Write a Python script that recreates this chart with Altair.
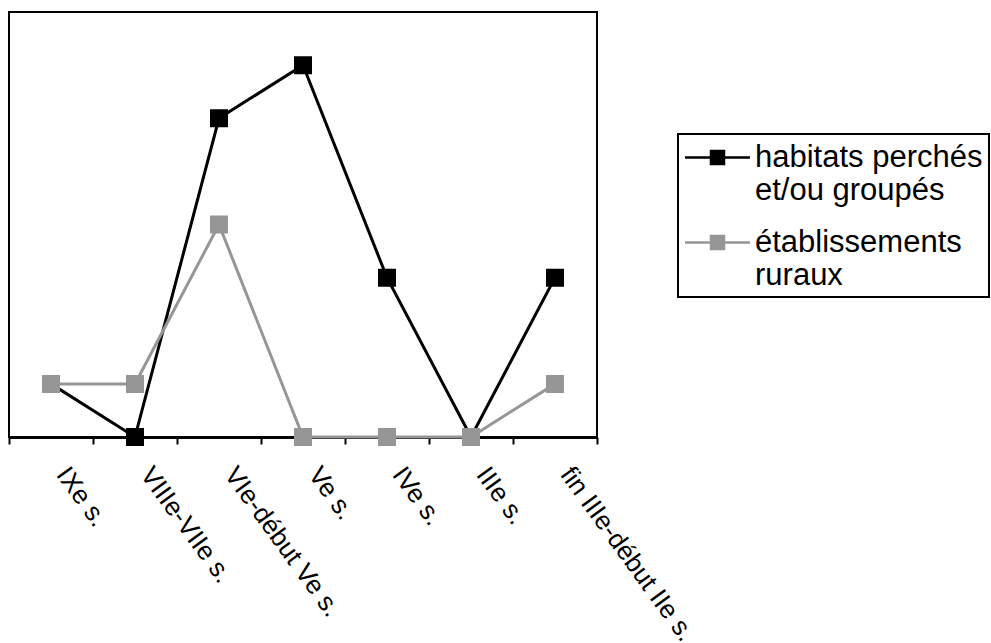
import altair as alt
import pandas as pd

# ---- data ----
categories = ["IXe s.", "VIIIe-VIIe s.", "VIe-début Ve s.", "Ve s.", "IVe s.", "IIIe s.",
              "fin IIIe-début IIe s."]
series_names = ["habitats perchés et/ou groupés", "établissements ruraux"]
habitats = [1, 0, 6, 7, 3, 0, 3]
etablissements = [1, 1, 4, 0, 0, 0, 1]
series_colors = ["#000000", "#969696"]

df = pd.DataFrame({
    "periode": categories + categories,
    "valeur": habitats + etablissements,
    "serie": [series_names[0]] * len(categories) + [series_names[1]] * len(categories),
})

FONT = "Liberation Sans"

x_enc = alt.X(
    "periode:N",
    sort=categories,
    bandPosition=0.5,
    scale=alt.Scale(type="band", domain=categories, paddingInner=0, paddingOuter=0),
    axis=alt.Axis(
        title=None, grid=False, labelAngle=54, labelAlign="left", labelBaseline="top",
        labelFont=FONT, labelFontSize=26, labelColor="black", labelPadding=18,
        labelOffset=21, labelOverlap=False, labelFlush=False, labelLimit=400,
        tickBand="extent", tickSize=7, tickWidth=2, tickColor="black",
        domainColor="black", domainWidth=3,
    ),
)
y_enc = alt.Y("valeur:Q", scale=alt.Scale(domain=[0, 8], nice=False, zero=True), axis=None)

sym_path = "M-2,0H2M-0.4,-0.4H0.4V0.4H-0.4Z"
label_expr = ("datum.label == 'habitats perchés et/ou groupés' ? "
              "['habitats perchés', 'et/ou groupés'] : ['établissements', 'ruraux']")

legend = alt.Legend(
    title=None, orient="none", legendX=669, legendY=122,
    symbolType=sym_path, symbolSize=1056, symbolStrokeWidth=2.5, symbolOffset=16,
    labelFont=FONT, labelFontSize=31, labelColor="black", labelLimit=500,
    labelOffset=20, labelBaseline="middle", labelExpr=label_expr,
    padding=6, rowPadding=19, strokeColor="black", fillColor="white",
)

color_scale = alt.Scale(domain=series_names, range=series_colors)

lines = alt.Chart(df).mark_line(strokeWidth=3).encode(
    x=x_enc, y=y_enc,
    stroke=alt.Stroke("serie:N", scale=color_scale, legend=legend),
    order=alt.Order("serie:N"),
)
points = alt.Chart(df).mark_square(size=256, opacity=1).encode(
    x=x_enc, y=y_enc,
    fill=alt.Fill("serie:N", scale=color_scale, legend=legend),
    stroke=alt.Stroke("serie:N", scale=color_scale, legend=legend),
)

chart = alt.layer(lines, points).properties(
    width=588, height=425,
    padding={"left": 9, "top": 12, "right": 394, "bottom": 206},
    autosize=alt.AutoSizeParams(type="none"),
).configure(
    font=FONT
).configure_view(
    stroke="black", strokeWidth=2
).configure_legend(
    strokeWidth=2
)

chart.save("out.html", embed_options={"renderer": "svg", "actions": False})
